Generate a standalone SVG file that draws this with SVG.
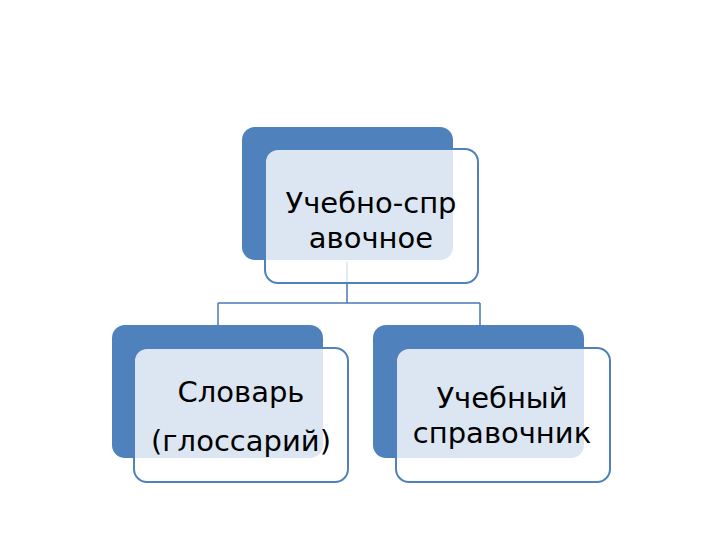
<svg xmlns="http://www.w3.org/2000/svg" width="720" height="540" viewBox="0 0 720 540">
<style>
.back{fill:#4f81bd;}
.front{fill:#ffffff;fill-opacity:0.8;stroke:#4f81bd;stroke-width:2;}
.conn{fill:none;stroke:#4a7ab5;stroke-width:1.5;}
.t{font-family:"DejaVu Sans",sans-serif;font-size:29px;fill:#000;text-anchor:middle;}
</style>
<rect width="720" height="540" fill="#ffffff"/>
<g id="connectors">
<path class="conn" d="M347,262 V303 M218,303 H480 M218,303 V326 M480,303 V326"/>
</g>
<g id="node-top">
<rect class="back" x="242" y="127" width="211" height="133" rx="13"/>
<rect class="front" x="265" y="149" width="213" height="134" rx="13"/>
<text class="t" x="371" y="213">Учебно-спр</text>
<text class="t" x="371" y="248">авочное</text>
</g>
<g id="node-left">
<rect class="back" x="112" y="325" width="211" height="133" rx="13"/>
<rect class="front" x="134" y="348" width="214" height="134" rx="13"/>
<text class="t" x="241" y="402">Словарь</text>
<text class="t" x="241" y="451">(глоссарий)</text>
</g>
<g id="node-right">
<rect class="back" x="373" y="325" width="211" height="133" rx="13"/>
<rect class="front" x="396" y="348" width="214" height="134" rx="13"/>
<text class="t" x="502" y="408">Учебный</text>
<text class="t" x="502" y="443">справочник</text>
</g>
</svg>
